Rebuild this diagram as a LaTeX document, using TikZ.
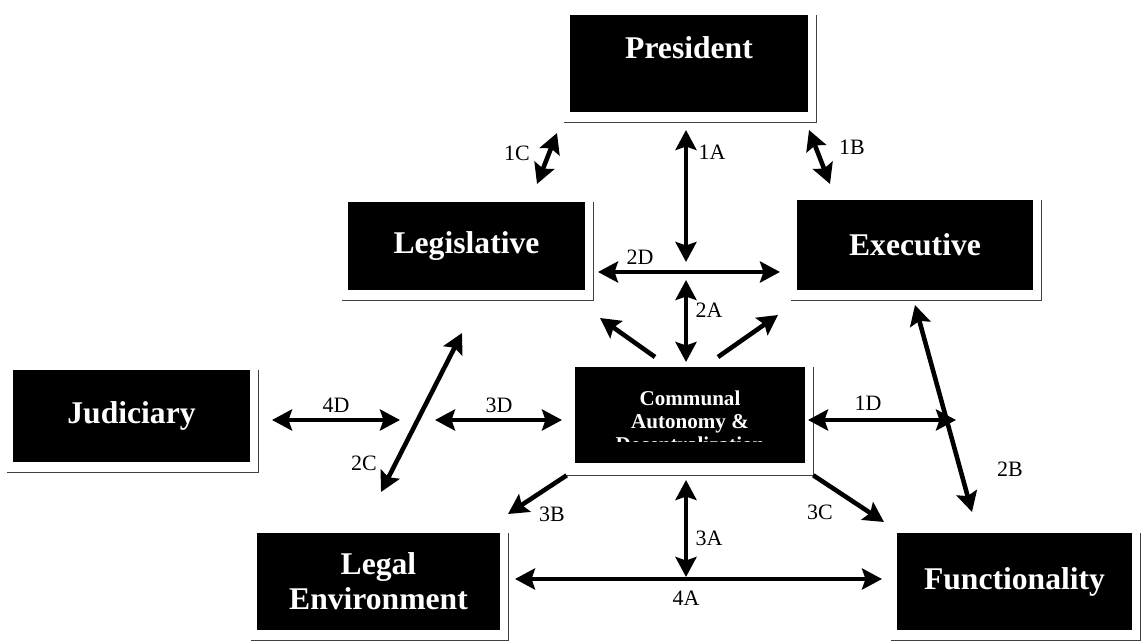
\documentclass[tikz,border=0pt]{standalone}
\usepackage{fontspec}
\setmainfont{Liberation Serif}
\usetikzlibrary{arrows.meta,calc}

\begin{document}
\begin{tikzpicture}[
    x=0.02cm, y=-0.02cm,
    >={Stealth[length=4mm,width=4.2mm,inset=0.7mm]},
    % black boxes with white bold serif text
    blk/.style={fill=black, text=white, inner sep=0pt, align=center, font=\fontsize{18}{20}\selectfont\bfseries},
    blktxt/.style={text=white, inner sep=0pt, align=center, font=\fontsize{18}{20}\selectfont\bfseries},
    frame/.style={line width=0.9pt, draw=black!75},
    lbl/.style={font=\fontsize{12.5}{14}\selectfont, inner sep=1pt},
    link/.style={<->, line width=2.6pt},
    one/.style={->, line width=2.6pt}
  ]

  \useasboundingbox (0,0) rectangle (1141,641);

  % ---------------------------------------------------------
  % BOXES
  % ---------------------------------------------------------
  \node[blk, minimum width=4.76cm, minimum height=1.94cm] (pres) at (689,63.5) {};
  \node[blktxt] (prestxt) at (689,48) {President};
  \node[blk, minimum width=4.74cm, minimum height=1.76cm] (legis) at (466.5,246) {Legislative};
  \node[blk, minimum width=4.72cm, minimum height=1.80cm] (exec) at (915,245) {Executive};
  \node[blk, minimum width=4.74cm, minimum height=1.84cm] (jud) at (131.5,416) {Judiciary};
  \node[blk, minimum width=4.60cm, minimum height=1.92cm] (comm) at (690,415) {};
  \node[blk, minimum width=4.86cm, minimum height=1.94cm] (legal) at (378.5,581.5) {Legal\\Environment};
  \node[blk, minimum width=4.70cm, minimum height=1.94cm] (func) at (1014.5,581.5) {Functionality};

  % communal text runs out of its box
  \begin{scope}
    \clip (comm.north west) rectangle ($(comm.east)+(0,26)$);
    \node[blktxt, font=\fontsize{12}{13}\selectfont\bfseries] (commtxt) at (690,421) {Communal\\Autonomy \&\\Decentralization};
  \end{scope}

  % offset frames (right and bottom)
  \foreach \b in {pres,legis,exec,jud,legal,func}
    \draw[frame] ($(\b.south west)+(-6,10)$) -- ($(\b.south east)+(8,10)$) -- ($(\b.north east)+(8,0)$);
  \coordinate (cbl) at ($(comm.south west)+(-8,12)$);
  \coordinate (cbr) at ($(comm.south east)+(8,12)$);
  \draw[frame] (cbl) -- (cbr) -- ($(comm.north east)+(8,0)$);

  % ---------------------------------------------------------
  % ARROW END POINTS
  % ---------------------------------------------------------
  \coordinate (c1Ca) at (557,133);  \coordinate (c1Cb) at (537,184);
  \coordinate (c1Aa) at (686,130);  \coordinate (c1Ab) at (686,262);
  \coordinate (c1Ba) at (809,130);  \coordinate (c1Bb) at (830,184);
  \coordinate (c2Da) at (598,272);  \coordinate (c2Db) at (780,272);
  \coordinate (c2Aa) at (686,280);  \coordinate (c2Ab) at (686,362);
  \coordinate (cula) at (655,357);  \coordinate (culb) at (600,318);
  \coordinate (cura) at (718,357);  \coordinate (curb) at (778,315);
  \coordinate (c2Ca) at (381,492);  \coordinate (c2Cb) at (462,333);
  \coordinate (c4Da) at (272,420);  \coordinate (c4Db) at (400,420);
  \coordinate (c3Da) at (435,420);  \coordinate (c3Db) at (562,420);
  \coordinate (c1Da) at (808,420);  \coordinate (c1Db) at (956,420);
  \coordinate (c2Ba) at (915,305);  \coordinate (c2Bb) at (972,512);
  \coordinate (c3Bb) at (508,514);
  \coordinate (c3Cb) at (884,522);
  \coordinate (c3Aa) at (686,480);  \coordinate (c3Ab) at (686,577);
  \coordinate (c4Aa) at (515,579);  \coordinate (c4Ab) at (882,579);

  % ---------------------------------------------------------
  % ARROWS
  % ---------------------------------------------------------
  \draw[link] (c1Ca) -- (c1Cb);
  \draw[link] (c1Aa) -- (c1Ab);
  \draw[link] (c1Ba) -- (c1Bb);
  \draw[link] (c2Da) -- (c2Db);
  \draw[link] (c2Aa) -- (c2Ab);
  \draw[one] (cula) -- (culb);
  \draw[one] (cura) -- (curb);
  \draw[link] (c2Ca) -- (c2Cb);
  \draw[link] (c4Da) -- (c4Db);
  \draw[link] (c3Da) -- (c3Db);
  \draw[link] (c1Da) -- (c1Db);
  \draw[link] (c2Ba) -- (c2Bb);
  \draw[one] (cbl) -- (c3Bb);
  \draw[one] (cbr) -- (c3Cb);
  \draw[link] (c3Aa) -- (c3Ab);
  \draw[link] (c4Aa) -- (c4Ab);

  % ---------------------------------------------------------
  % LABELS
  % ---------------------------------------------------------
  \node[lbl] (l1C) at (517,153) {1C};
  \node[lbl] (l1A) at (712,152) {1A};
  \node[lbl] (l1B) at (852,147) {1B};
  \node[lbl] (l2D) at (640,257) {2D};
  \node[lbl] (l2A) at (709,310) {2A};
  \node[lbl] (l2C) at (364,463) {2C};
  \node[lbl] (l4D) at (336,405) {4D};
  \node[lbl] (l3D) at (499,405) {3D};
  \node[lbl] (l1D) at (868,403) {1D};
  \node[lbl] (l2B) at (1010,469) {2B};
  \node[lbl] (l3B) at (552,514) {3B};
  \node[lbl] (l3A) at (709,538) {3A};
  \node[lbl] (l3C) at (820,512) {3C};
  \node[lbl] (l4A) at (686,598) {4A};

\end{tikzpicture}
\end{document}
